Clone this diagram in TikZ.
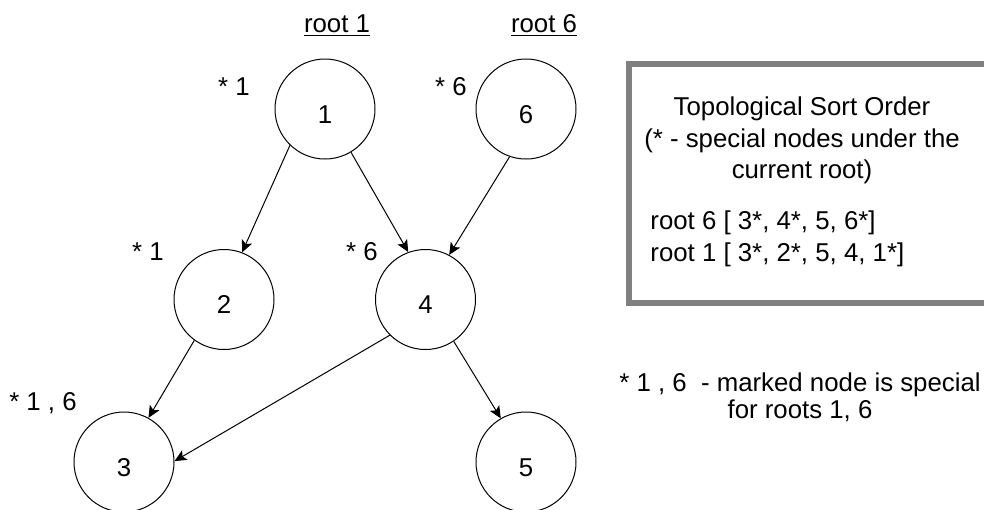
\documentclass[tikz,border=0pt]{standalone}
\usepackage{fontspec}
\setmainfont{Liberation Sans}
\usetikzlibrary{arrows.meta}
\definecolor{boxgray}{RGB}{128,128,128}
\begin{document}
\begin{tikzpicture}[x=0.5pt,y=-0.5pt,
  font=\fontsize{12.9}{15.5}\selectfont,
  vertex/.style={circle,draw,line width=0.5pt,minimum size=50pt,inner sep=0pt,
                 text height=14.2pt,text depth=0pt},
  edge/.style={draw,line width=0.5pt,-{Stealth[length=6pt,width=5.5pt,inset=1.4pt]}},
  tag/.style={anchor=base,inner sep=0pt},
  panel/.style={draw=boxgray,line width=3pt,anchor=north west,inner sep=0pt},
  leftline/.style={anchor=base west,inner sep=0pt}]
\useasboundingbox (0,0) rectangle (984,509);

% root headers
\node[tag] (root1) at (337,32) {\underline{root 1}};
\node[tag] (root6) at (544,32) {\underline{root 6}};

% graph vertices
\node[vertex] (n1) at (325,109) {1};
\node[vertex] (n6) at (526,109) {6};
\node[vertex] (n2) at (224,299.5) {2};
\node[vertex] (n4) at (425.5,299.5) {4};
\node[vertex] (n3) at (124,462) {3};
\node[vertex] (n5) at (526,462) {5};

% special-node markers
\node[tag] (m1) at (234,95) {* 1};
\node[tag] (m6) at (451,95) {* 6};
\node[tag] (m2) at (148,260) {* 1};
\node[tag] (m4) at (362,260) {* 6};
\node[tag] (m3) at (43,410) {* 1 , 6};

% dependency edges
\draw[edge] (n1.226.5) -- (n2.69.7);
\draw[edge] (n1.301.5) -- (n4.110);
\draw[edge] (n6.251) -- (n4.62);
\draw[edge] (n2.234) -- (n3.61);
\draw[edge] (n4.225) -- (n3.1);
\draw[edge] (n4.304) -- (n5.120.6);

% sort order panel
\node[panel,minimum width=200pt,minimum height=119.5pt] (panel) at (626,61) {};
\node[tag] (p1) at (802,115) {Topological Sort Order};
\node[tag] (p2) at (802,147) {(* - special nodes under the};
\node[tag] (p3) at (802,178) {current root)};
\node[leftline] (p4) at (650,229) {root 6 [ 3*, 4*, 5, 6*]};
\node[leftline] (p5) at (650,261) {root 1 [ 3*, 2*, 5, 4, 1*]};

% legend note
\node[tag] (note1) at (800,391) {* 1 , 6 \ - marked node is special};
\node[tag] (note2) at (800,418) {for roots 1, 6};
\end{tikzpicture}
\end{document}
